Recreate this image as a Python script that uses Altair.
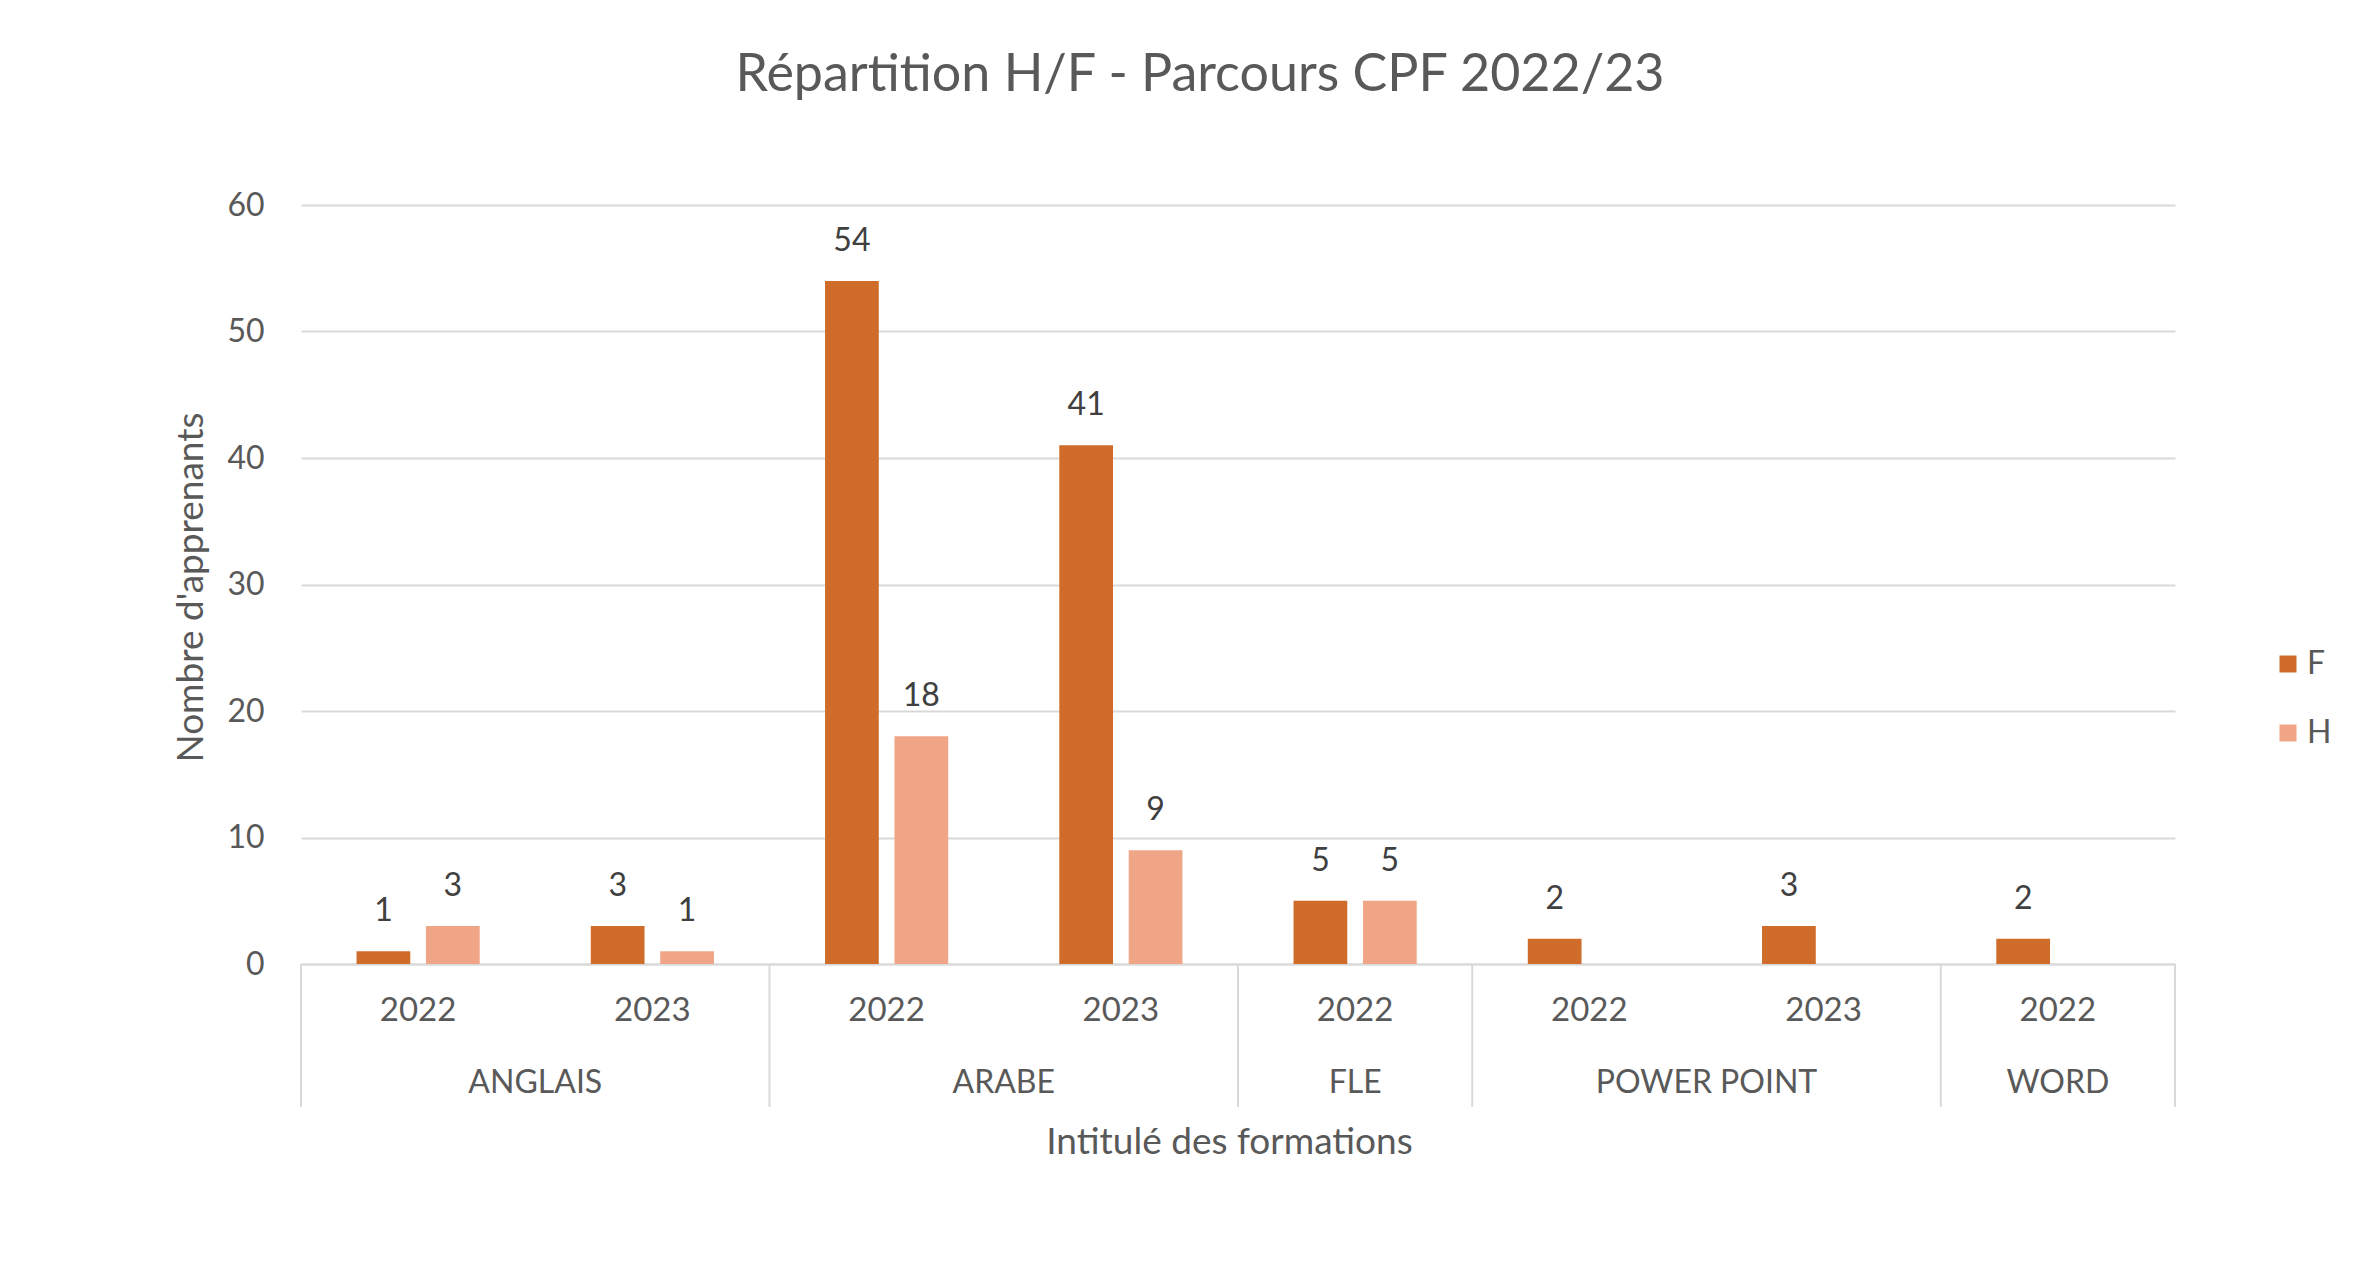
import altair as alt
import pandas as pd

# ---- data ----
formations = ["ANGLAIS", "ANGLAIS", "ARABE", "ARABE", "FLE", "POWER POINT", "POWER POINT", "WORD"]
years = ["2022", "2023", "2022", "2023", "2022", "2022", "2023", "2022"]
f_values = [1, 3, 54, 41, 5, 2, 3, 2]
h_values = [3, 1, 18, 9, 5, None, None, None]
genders = ["F", "H"]
colors = ["#D06C2A", "#F0A587"]
y_ticks = [0, 10, 20, 30, 40, 50, 60]

slots = [f"{f}|{y}" for f, y in zip(formations, years)]

rows = []
for s, fv, hv in zip(slots, f_values, h_values):
    if fv is not None:
        rows.append({"slot": s, "sexe": "F", "n": fv})
    if hv is not None:
        rows.append({"slot": s, "sexe": "H", "n": hv})
bars_df = pd.DataFrame(rows)

# group info (label placement & separators)
groups = []
for f in dict.fromkeys(formations):
    idx = [i for i, g in enumerate(formations) if g == f]
    groups.append({"groupe": f, "first": slots[idx[0]], "count": len(idx)})
groups_df = pd.DataFrame(groups)
last_df = pd.DataFrame([{"slot": slots[-1]}])

TEXT = "#595959"
FONT = "Lato"
W, H = 1874, 759

x_enc = alt.X("slot:N", sort=slots,
              scale=alt.Scale(paddingInner=0, paddingOuter=0),
              axis=alt.Axis(labelExpr="split(datum.label, '|')[1]", labelAngle=0,
                            labelFontSize=33, labelColor=TEXT, labelPadding=30,
                            ticks=False, domain=True, domainColor="#d9d9d9", domainWidth=2,
                            title="Intitulé des formations", titleFontSize=37,
                            titleColor=TEXT, titleFontWeight="normal",
                            titleY=178, titleBaseline="middle", titleX=928))
xo_enc = alt.XOffset("sexe:N", sort=genders,
                     scale=alt.Scale(domain=genders, paddingInner=0.226, paddingOuter=0.8))
y_enc = alt.Y("n:Q", scale=alt.Scale(domain=[0, 60], nice=False),
              axis=alt.Axis(values=y_ticks, ticks=False, domain=False,
                            gridColor="#d9d9d9", gridWidth=2,
                            labelFontSize=32, labelColor=TEXT, labelPadding=37,
                            title="Nombre d'apprenants", titleFontSize=37, titleColor=TEXT,
                            titleFontWeight="normal", titleAngle=270,
                            titleX=-110, titleY=382, titleBaseline="middle",
                            titleAlign="center"))

bars = alt.Chart(bars_df).mark_bar().encode(
    x=x_enc, xOffset=xo_enc, y=y_enc,
    color=alt.Color("sexe:N", sort=genders,
                    scale=alt.Scale(domain=genders, range=colors),
                    legend=alt.Legend(title=None, orient="none", legendX=1971, legendY=443,
                                      symbolType="square", symbolSize=289,
                                      symbolStrokeWidth=0,
                                      labelFontSize=32, labelColor=TEXT, labelOffset=3,
                                      rowPadding=37)),
)

labels = alt.Chart(bars_df).mark_text(
    fontSize=32, color="#404040", baseline="alphabetic", dy=-30, font=FONT
).encode(x=alt.X("slot:N", sort=slots), xOffset=alt.XOffset("sexe:N", sort=genders),
         y="n:Q", text="n:Q")

sep_left = alt.Chart(groups_df).mark_rule(color="#d9d9d9", strokeWidth=2).encode(
    x=alt.X("first:N", sort=slots, bandPosition=0),
    y=alt.value(H), y2=alt.value(H + 143))
sep_right = alt.Chart(last_df).mark_rule(color="#d9d9d9", strokeWidth=2).encode(
    x=alt.X("slot:N", sort=slots, bandPosition=1),
    y=alt.value(H), y2=alt.value(H + 143))

grp_two = alt.Chart(groups_df).transform_filter("datum.count == 2").mark_text(
    fontSize=32, color=TEXT, baseline="middle", font=FONT
).encode(x=alt.X("first:N", sort=slots, bandPosition=1),
         y=alt.value(H + 119), text="groupe:N")
grp_one = alt.Chart(groups_df).transform_filter("datum.count == 1").mark_text(
    fontSize=32, color=TEXT, baseline="middle", font=FONT
).encode(x=alt.X("first:N", sort=slots, bandPosition=0.5),
         y=alt.value(H + 119), text="groupe:N")

chart = alt.layer(bars, labels, sep_left, sep_right, grp_two, grp_one).properties(
    width=W, height=H,
    autosize=alt.AutoSizeParams(type="none"),
    padding={"left": 293, "top": 197, "right": 179, "bottom": 305},
    title=alt.TitleParams("Répartition H/F - Parcours CPF 2022/23", fontSize=52,
                          color=TEXT, fontWeight="normal", font=FONT,
                          anchor="middle", dx=-38, offset=87),
).configure(font=FONT, background="white").configure_view(stroke=None)

chart.save("out.html", embed_options={"renderer": "svg", "actions": False})
